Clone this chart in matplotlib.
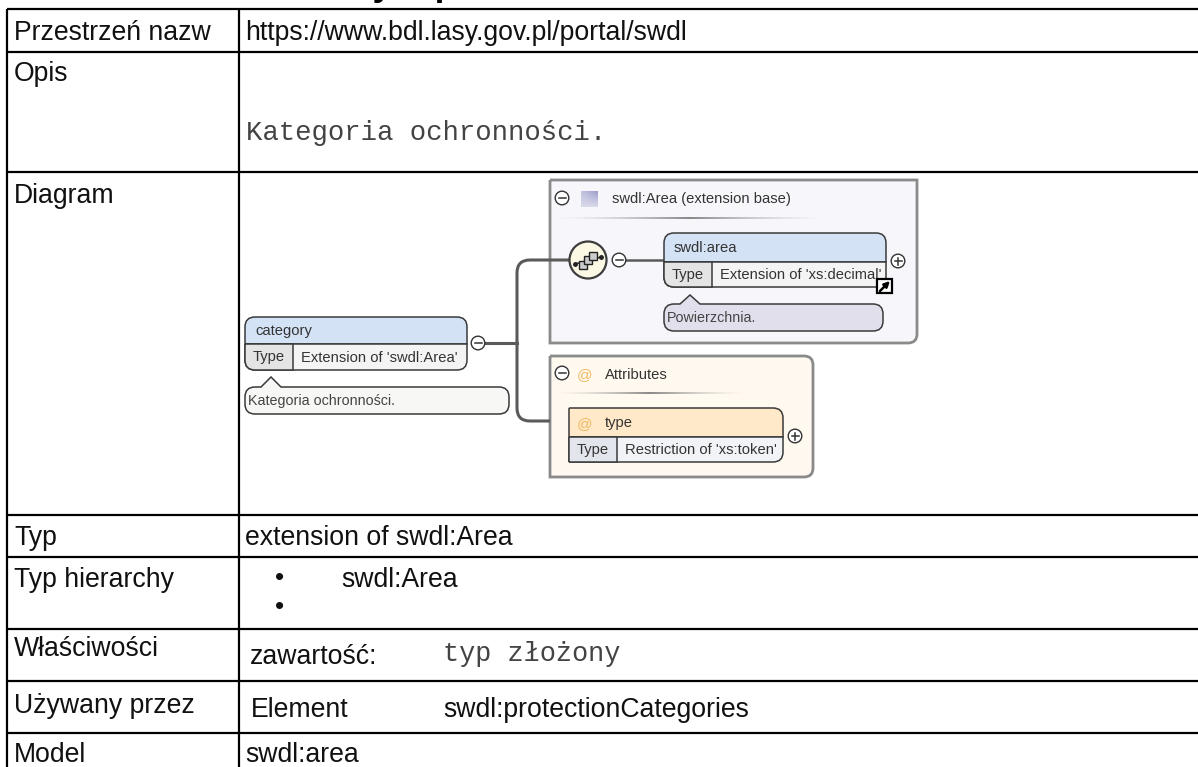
import matplotlib
matplotlib.use("Agg")
import matplotlib.pyplot as plt
from matplotlib.patches import Rectangle, Circle, PathPatch
from matplotlib.path import Path
import numpy as np

W, H = 1198, 767
LEFT_LABELS = ["Przestrzeń nazw", "Opis", "Diagram", "Typ", "Typ hierarchy", "Właściwości", "Używany przez", "Model"]
ROW_LINES = [9, 52, 172, 515, 557, 629, 681, 733]
COL_LINES = [7, 239]
NAMESPACE = "https://www.bdl.lasy.gov.pl/portal/swdl"
DESCRIPTION = "Kategoria ochronności."
TYPE_TEXT = "extension of swdl:Area"
HIER = "swdl:Area"
PROP_KEY, PROP_VAL = "zawartość:", "typ złożony"
USED_KEY, USED_VAL = "Element", "swdl:protectionCategories"
MODEL = "swdl:area"

fig = plt.figure(figsize=(W/100, H/100), dpi=100)
ax = fig.add_axes([0, 0, 1, 1])
ax.set_xlim(0, W); ax.set_ylim(H, 0); ax.axis("off")
SANS = "Liberation Sans"; MONO = "Liberation Mono"
FS = 19.2

for y in ROW_LINES:
    ax.plot([COL_LINES[0], W], [y, y], color="black", lw=1.6, solid_capstyle="butt")
for x in COL_LINES:
    ax.plot([x, x], [ROW_LINES[0], H], color="black", lw=1.6, solid_capstyle="butt")

def t(x, y, s, size=FS, fam=SANS, color="#111111", **k):
    k.setdefault("va", "center")
    ax.text(x, y, s, fontsize=size, family=fam, color=color, **k)

label_y = [33, 74, 196, 538, 580, 649, 706, 755]
for lab, y in zip(LEFT_LABELS, label_y):
    t(14, y, lab)
t(245, 33, NAMESPACE)
t(246, 133, DESCRIPTION, size=19.7, fam=MONO, color="#444444")
t(245, 538, TYPE_TEXT)
t(275, 578, "•", size=19); t(275, 607, "•", size=19)
t(341, 580, HIER)
t(250, 657, PROP_KEY); t(443, 654, PROP_VAL, fam=MONO, size=19.4, color="#444444")
t(251, 710, USED_KEY); t(443, 710, USED_VAL)
t(245, 755, MODEL)

# descenders of the title, cut by the top of the image
ax.text(372, -4, "y  p", fontsize=25, family=MONO, weight="bold", va="baseline", clip_on=True)

GR = "#8a8a8a"; DK = "#3a3a3a"; TXT = "#333333"; TS = 10.6

def elem(x0, y0, x1, ymid, y1, xdiv, name, tp, headc, cellc, typec, rl=10):
    r = 10
    v = [(x0, ymid), (x0, y0+rl), (x0, y0), (x0+rl, y0), (x1-r, y0), (x1, y0), (x1, y0+r), (x1, ymid), (x0, ymid)]
    c = [1, 2, 3, 3, 2, 3, 3, 2, 2]
    ax.add_patch(PathPatch(Path(v, c), fc=headc, ec=DK, lw=1.1, zorder=4))
    v = [(x0, ymid), (x1, ymid), (x1, y1-r), (x1, y1), (x1-r, y1), (x0+rl, y1), (x0, y1), (x0, y1-rl), (x0, ymid)]
    c = [1, 2, 2, 3, 3, 2, 3, 3, 2]
    ax.add_patch(PathPatch(Path(v, c), fc=cellc, ec=DK, lw=1.1, zorder=4))
    v = [(x0, ymid), (xdiv, ymid), (xdiv, y1), (x0+rl, y1), (x0, y1), (x0, y1-rl), (x0, ymid)]
    ax.add_patch(PathPatch(Path(v, [1, 2, 2, 2, 3, 3, 2]), fc=typec, ec=DK, lw=1.1, zorder=4.1))
    if name:
        t(x0+10, (y0+ymid)/2+.5, name, size=TS, color=TXT, zorder=6)
    t(x0+8, (ymid+y1)/2+.5, "Type", size=TS, color=TXT, zorder=6)
    t(xdiv+8, (ymid+y1)/2+.5, tp, size=TS, color=TXT, zorder=6)

def toggle(x, y, plus=False):
    ax.add_patch(Circle((x, y), 6.8, fc="white", ec="#333333", lw=1.0, zorder=7))
    ax.plot([x-3.5, x+3.5], [y, y], color="#333333", lw=1.1, zorder=8)
    if plus:
        ax.plot([x, x], [y-3.5, y+3.5], color="#333333", lw=1.1, zorder=8)

def note(x0, y0, x1, y1, tipx, tipy, s, fc):
    r = 10
    v = [(x0+r, y0), (tipx-10, y0), (tipx, tipy), (tipx+10, y0), (x1-r, y0), (x1, y0), (x1, y0+r), (x1, y1-r), (x1, y1),
         (x1-r, y1), (x0+r, y1), (x0, y1), (x0, y1-r), (x0, y0+r), (x0, y0), (x0+r, y0)]
    c = [1, 2, 2, 2, 2, 3, 3, 2, 3, 3, 2, 3, 3, 2, 3, 3]
    ax.add_patch(PathPatch(Path(v, c), fc=fc, ec=DK, lw=1.1, zorder=4))
    t(x0+3, (y0+y1)/2+.5, s, size=10.3, color="#444444", zorder=6)

def panel(x0, y0, x1, y1, fc, square_top_right=False):
    r = 9
    if square_top_right:
        v = [(x0, y0), (x1, y0), (x1, y1-r), (x1, y1), (x1-r, y1), (x0, y1), (x0, y0)]
        c = [1, 2, 2, 3, 3, 2, 2]
    else:
        v = [(x0, y0), (x1-r, y0), (x1, y0), (x1, y0+r), (x1, y1-r), (x1, y1), (x1-r, y1), (x0, y1), (x0, y0)]
        c = [1, 2, 3, 3, 2, 3, 3, 2, 2]
    ax.add_patch(PathPatch(Path(v, c), fc=fc, ec=GR, lw=2.0, zorder=2))

panel(550, 180, 917, 343, "#f7f6fb", True)
panel(550, 356, 813, 477, "#fff9f0", False)

def fade(x0, x1, y):
    g = np.abs(np.linspace(-1, 1, 200))
    im = np.ones((1, 200, 4)); im[..., :3] = 0.35; im[..., 3] = (1-g)**1.5*0.7
    ax.imshow(im, extent=[x0, x1, y+1, y-1], aspect="auto", zorder=3, interpolation="bilinear")
    ax.set_xlim(0, W); ax.set_ylim(H, 0)
fade(553, 827, 218)
fade(553, 747, 393)

LC = "#5a5a5a"
ax.plot([485, 517], [343, 343], color=LC, lw=2.2, zorder=3)
v = [(572, 260), (530, 260), (517, 260), (517, 273), (517, 408), (517, 421), (530, 421), (550, 421)]
c = [1, 2, 3, 3, 2, 3, 3, 2]
ax.add_patch(PathPatch(Path(v, c), fc="none", ec=LC, lw=2.2, zorder=3))
ax.plot([622, 665], [260, 260], color=LC, lw=1.8, zorder=3)

elem(245, 317, 467, 344, 370, 293, "category", "Extension of 'swdl:Area'", "#d4e2f6", "#f4f4f4", "#e4e4e4")
elem(664, 233, 886, 262, 287, 712, "swdl:area", "Extension of 'xs:decimal'", "#d4e2f6", "#f4f4f4", "#e4e4e4")
elem(569, 408, 783, 437, 462, 617, "", "Restriction of 'xs:token'", "#ffe9c8", "#f1f3f7", "#e2e6ec", rl=1)
t(605, 423, "type", size=TS, color=TXT, zorder=6)
t(585, 424, "@", size=11, color="#f0b860", zorder=6, ha="center")
note(245, 387, 509, 414, 271, 377, DESCRIPTION, "#f7f7f5")
note(664, 304, 883, 331, 690, 295, "Powierzchnia.", "#e2dfec")

toggle(478, 343); toggle(562, 198); toggle(619, 260); toggle(562, 373)
toggle(898, 261, True); toggle(795, 436, True)

# sequence symbol
ax.add_patch(Circle((588, 260), 18.5, fc="#fbf8e4", ec="#3d3d3d", lw=1.6, zorder=5))
ax.plot([575, 601], [264, 257], color="#222222", lw=1.1, zorder=6)
ax.plot([575, 601], [264, 257], ls="none", marker="o", ms=2.5, color="#222222", zorder=6)
for dx, dy in [(-5, 5), (0, 0), (5, -4)]:
    ax.add_patch(Rectangle((588+dx-4, 260+dy-4), 8, 8, fc="#cccccc", ec="#222222", lw=1.0, zorder=7))

# header icons & text
ax.imshow(np.linspace(0, 1, 32).reshape(-1, 1)[::-1] * np.linspace(0.4, 1, 32), cmap="Purples", vmin=-1, vmax=3,
          extent=[581, 598, 207, 191], aspect="auto", zorder=5)
ax.set_xlim(0, W); ax.set_ylim(H, 0)
t(612, 199, "swdl:Area (extension base)", size=TS, color=TXT, zorder=6)
t(585, 375, "@", size=11, color="#f0b860", zorder=6, ha="center")
t(605, 375, "Attributes", size=TS, color=TXT, zorder=6)

# link icon
ax.add_patch(Rectangle((877, 279), 15, 14, fc="white", ec="black", lw=1.6, zorder=8))
ax.annotate("", xy=(890, 281), xytext=(880, 291), zorder=9,
            arrowprops=dict(arrowstyle="-|>", color="black", lw=1.8, mutation_scale=8, shrinkA=0, shrinkB=0))

fig.savefig("out.png", dpi=100, facecolor="white")
